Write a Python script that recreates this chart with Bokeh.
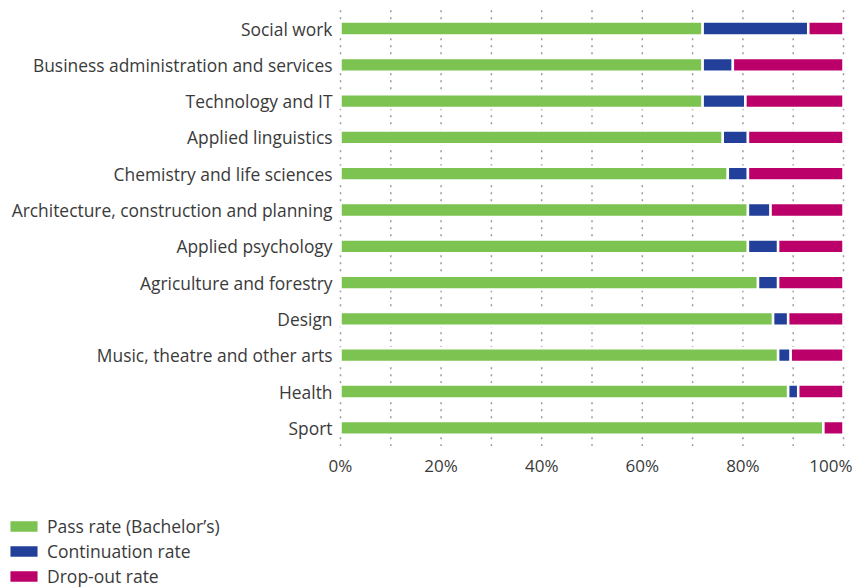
from bokeh.plotting import figure
from bokeh.models import Range1d, Legend, LegendItem, ColumnDataSource
from bokeh.core.properties import value
from bokeh.embed import file_html
from bokeh.resources import INLINE

categories = ["Social work", "Business administration and services", "Technology and IT",
              "Applied linguistics", "Chemistry and life sciences",
              "Architecture, construction and planning", "Applied psychology",
              "Agriculture and forestry", "Design", "Music, theatre and other arts",
              "Health", "Sport"]
pass_rate = [72, 72, 72, 76, 77, 81, 81, 83, 86, 87, 89, 96]
continuation_rate = [21, 6, 8.5, 5, 4, 4.5, 6, 4, 3, 2.5, 2, 0]
dropout_rate = [7, 22, 19.5, 19, 19, 14.5, 13, 13, 11, 10.5, 9, 4]
series_names = ["Pass rate (Bachelor\u2019s)", "Continuation rate", "Drop-out rate"]
x_ticks = [0, 20, 40, 60, 80, 100]
x_tick_labels = ["0%", "20%", "40%", "60%", "80%", "100%"]
grid_ticks = [0, 10, 20, 30, 40, 50, 60, 70, 80, 90, 100]

colors = ["#7cc352", "#22409a", "#bb006a"]
FONT = "Open Sans"
TXT = "#3a3a3a"

# ---- layout (pixels) ----
W, H = 862, 588
ZERO_PX, FULL_PX = 340, 843        # x pixel of 0 % and 100 %
ROW0_PX, ROW_PX = 28, 36.3         # y pixel of first row centre, row pitch
TICK_LABEL_PX = 465                # y pixel of the percentage labels
ux = (FULL_PX - ZERO_PX) / 100.0

n = len(categories)
pos = list(range(n))               # row index, 0 = top row

src = ColumnDataSource(dict(cat=categories, pos=pos, p=pass_rate,
                            c=continuation_rate, d=dropout_rate))

p = figure(width=W, height=H, output_backend="svg", toolbar_location=None,
           x_range=Range1d(-ZERO_PX / ux, 100 + (W - FULL_PX) / ux),
           y_range=Range1d((H - ROW0_PX) / ROW_PX, -ROW0_PX / ROW_PX),
           x_axis_location=None, y_axis_location=None,
           min_border=0)
p.outline_line_color = None
p.xgrid.visible = False
p.ygrid.visible = False

# dotted vertical grid, limited to the band of the rows
p.segment(x0=grid_ticks, x1=grid_ticks, y0=-0.5, y1=n - 0.5,
          line_color="#999999", line_width=1.5, line_dash="2 5")

rends = p.hbar_stack(["p", "c", "d"], y="pos", height=0.38, color=colors,
                     line_color="white", line_width=2.5, source=src)

# category labels, right-aligned against the 0 % line
p.text(x=0, y="pos", text="cat", source=src, x_offset=-8, text_align="right",
       text_baseline="middle", text_font=value(FONT), text_font_size=value("17.4px"),
       text_color=TXT)

# percentage labels (the last one is pulled inside the right edge, as in the original)
tick_pos = x_ticks[:-1] + [x_ticks[-1] - 2.5]
tick_src = ColumnDataSource(dict(x=tick_pos, t=x_tick_labels))
p.text(x="x", y=(TICK_LABEL_PX - ROW0_PX) / ROW_PX, text="t", source=tick_src,
       text_align="center", text_baseline="middle", text_font=value(FONT),
       text_font_size=value("17px"), text_color=TXT)

legend = Legend(items=[LegendItem(label=s, renderers=[r]) for s, r in zip(series_names, rends)],
                location=(5, 0), orientation="vertical",
                glyph_width=37, glyph_height=16, label_height=10, spacing=1,
                label_text_font=FONT, label_text_font_size="17.5px", label_text_color=TXT,
                label_standoff=5, padding=0, margin=0,
                border_line_color=None, background_fill_alpha=0)
p.add_layout(legend, "center")

open("out.html", "w").write(file_html(p, INLINE))
